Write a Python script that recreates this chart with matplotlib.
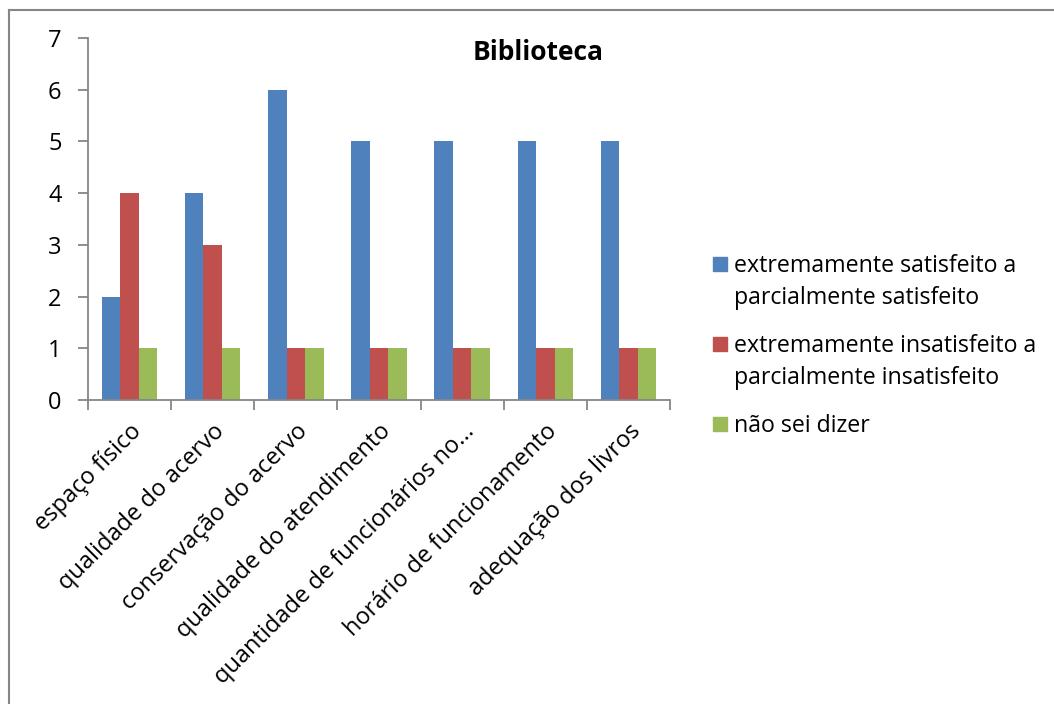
import numpy as np
import matplotlib.pyplot as plt
from matplotlib.lines import Line2D
from matplotlib.patches import Rectangle

categories = ['espaço físico', 'qualidade do acervo', 'conservação do acervo',
              'qualidade do atendimento', 'quantidade de funcionários no...',
              'horário de funcionamento', 'adequação dos livros']
satisfeito = [2, 4, 6, 5, 5, 5, 5]
insatisfeito = [4, 3, 1, 1, 1, 1, 1]
nao_sei = [1, 1, 1, 1, 1, 1, 1]
series_labels = [['extremamente satisfeito a', 'parcialmente satisfeito'],
                 ['extremamente insatisfeito a', 'parcialmente insatisfeito'],
                 ['não sei dizer']]
colors = ['#4F81BD', '#C0504D', '#9BBB59']

plt.rcParams['font.family'] = ['Open Sans', 'DejaVu Sans']
axis_color = '#868686'
W, H = 1054, 704

fig = plt.figure(figsize=(W / 100, H / 100), dpi=100)
ax = fig.add_axes([88 / W, 1 - 400 / H, 582 / W, 362 / H])

x = np.arange(len(categories))
w = 1 / 4.5
for i, (vals, c) in enumerate(zip([satisfeito, insatisfeito, nao_sei], colors)):
    ax.bar(x + (i - 1) * w, vals, width=w, color=c)

ax.set_xlim(-0.5, len(categories) - 0.5)
ax.set_ylim(0, 7)
ax.set_yticks(range(8))
ax.tick_params(axis='y', labelsize=17, length=7, color=axis_color, width=1.3, pad=12)

ax.set_xticks(x)
ax.set_xticklabels(categories, rotation=45, ha='right', rotation_mode='anchor', fontsize=17)
ax.tick_params(axis='x', which='major', length=0, pad=14)
ax.set_xticks(np.arange(-0.5, len(categories)), minor=True)
ax.tick_params(axis='x', which='minor', length=7, color=axis_color, width=1.3)

for s in ['top', 'right']:
    ax.spines[s].set_visible(False)
for s in ['left', 'bottom']:
    ax.spines[s].set_color(axis_color)
    ax.spines[s].set_linewidth(1.3)

fig.text(538 / W, 1 - 52 / H, 'Biblioteca', ha='center', va='center',
         fontsize=19, fontweight='bold')

# legend, Excel style: square beside first line of each entry
first_baselines = [272, 352, 432]
for lines, c, yb in zip(series_labels, colors, first_baselines):
    fig.add_artist(Rectangle((713 / W, 1 - (yb - 1) / H), 14 / W, 14 / H,
                             transform=fig.transFigure, color=c))
    for k, line in enumerate(lines):
        fig.text(734 / W, 1 - (yb + 31.5 * k) / H, line, fontsize=16.7,
                 ha='left', va='baseline')

# chart-area border (top and left only visible)
fig.add_artist(Line2D([8.5 / W, 1], [1 - 9.5 / H, 1 - 9.5 / H], color=axis_color, lw=1.5))
fig.add_artist(Line2D([8.5 / W, 8.5 / W], [0, 1 - 9.5 / H], color=axis_color, lw=1.5))

fig.savefig('out.png', dpi=100)
